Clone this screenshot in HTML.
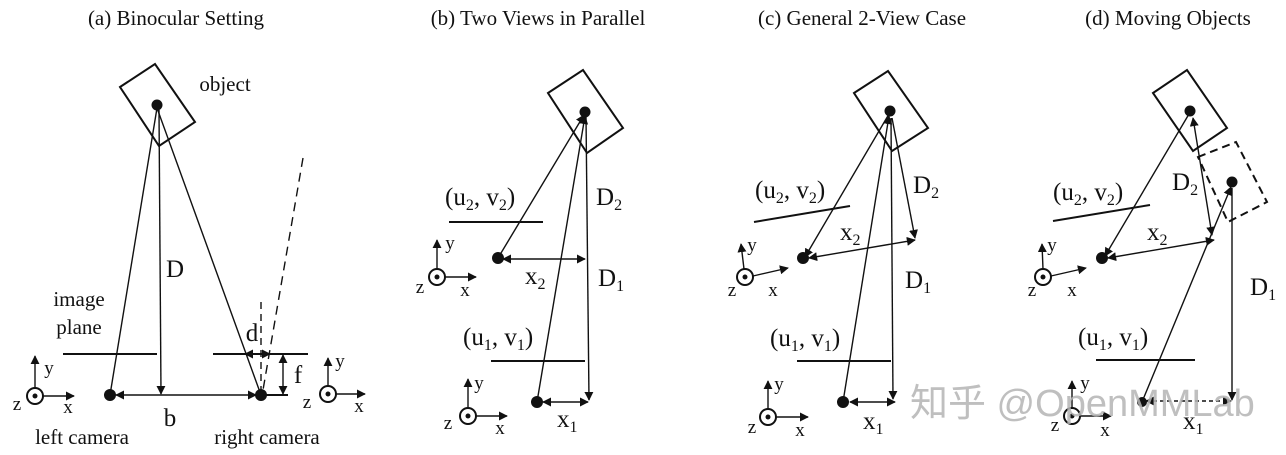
<!DOCTYPE html>
<html><head><meta charset="utf-8"><style>
html,body{margin:0;padding:0;background:#fff;}
svg{display:block;}
text{font-family:"Liberation Serif",serif;fill:#111;}
.t{font-size:21px;}
.l{font-size:25px;}
.s{font-size:19px;}
.wm{font-family:"Liberation Sans","Noto Sans CJK SC",sans-serif;fill:#b5b5b5;font-size:38px;}
</style></head><body>
<svg width="1286" height="455" viewBox="0 0 1286 455" xmlns="http://www.w3.org/2000/svg">
<defs>
<marker id="a" viewBox="0 0 10 10" refX="9" refY="5" markerWidth="9" markerHeight="9" markerUnits="userSpaceOnUse" orient="auto-start-reverse">
<path d="M0,0 L10,5 L0,10 z" fill="#111"/></marker>
</defs>
<g stroke="#111" stroke-width="1.4" fill="none">
<!-- Panel a -->
<polygon points="120,87 155,64 195,122 159,146" stroke-width="2"/>
<line x1="157" y1="108" x2="110" y2="395"/>
<line x1="157" y1="108" x2="261" y2="395"/>
<line x1="159" y1="110" x2="161" y2="394" marker-end="url(#a)"/>
<line x1="116" y1="395" x2="256" y2="395" marker-start="url(#a)" marker-end="url(#a)"/>
<line x1="63" y1="354" x2="157" y2="354" stroke-width="2"/>
<line x1="213" y1="354" x2="308" y2="354" stroke-width="2"/>
<line x1="261" y1="302" x2="261" y2="392" stroke-dasharray="7,5"/>
<line x1="303" y1="158" x2="263" y2="390" stroke-dasharray="9,6"/>
<line x1="245" y1="354" x2="270" y2="354" marker-start="url(#a)" marker-end="url(#a)"/>
<line x1="283" y1="355" x2="283" y2="394" marker-start="url(#a)" marker-end="url(#a)"/>
<line x1="265" y1="395" x2="288" y2="395" stroke-width="2"/>
<circle cx="35" cy="396" r="8" stroke-width="2"/>
<line x1="35" y1="388" x2="35" y2="356" marker-end="url(#a)"/>
<line x1="43" y1="396" x2="74" y2="396" marker-end="url(#a)"/>
<circle cx="328" cy="394" r="8" stroke-width="2"/>
<line x1="328" y1="386" x2="328" y2="358" marker-end="url(#a)"/>
<line x1="336" y1="394" x2="365" y2="394" marker-end="url(#a)"/>
<!-- Panel b -->
<polygon points="548,93 583,70 623,128 587,153" stroke-width="2"/>
<line x1="498" y1="258" x2="584" y2="115" marker-end="url(#a)"/>
<line x1="537" y1="402" x2="585" y2="116" marker-end="url(#a)"/>
<line x1="586" y1="116" x2="589" y2="400" marker-end="url(#a)"/>
<line x1="503" y1="259" x2="585" y2="259" marker-start="url(#a)" marker-end="url(#a)"/>
<line x1="543" y1="402" x2="588" y2="402" marker-start="url(#a)" marker-end="url(#a)"/>
<line x1="449" y1="222" x2="543" y2="222" stroke-width="2"/>
<line x1="491" y1="361" x2="585" y2="361" stroke-width="2"/>
<circle cx="437" cy="277" r="8" stroke-width="2"/>
<line x1="437" y1="269" x2="437" y2="240" marker-end="url(#a)"/>
<line x1="445" y1="277" x2="476" y2="277" marker-end="url(#a)"/>
<circle cx="468" cy="416" r="8" stroke-width="2"/>
<line x1="468" y1="408" x2="468" y2="379" marker-end="url(#a)"/>
<line x1="476" y1="416" x2="507" y2="416" marker-end="url(#a)"/>
<!-- Panel c -->
<polygon points="854,93 888,71 928,128 892,151" stroke-width="2"/>
<line x1="889" y1="114" x2="805" y2="257" marker-end="url(#a)"/>
<line x1="843" y1="402" x2="889" y2="116" marker-end="url(#a)"/>
<line x1="891" y1="118" x2="893" y2="399" marker-end="url(#a)"/>
<line x1="892" y1="118" x2="915" y2="238" marker-end="url(#a)"/>
<line x1="809" y1="258" x2="915" y2="240" marker-start="url(#a)" marker-end="url(#a)"/>
<line x1="850" y1="402" x2="895" y2="402" marker-start="url(#a)" marker-end="url(#a)"/>
<line x1="754" y1="222" x2="850" y2="206" stroke-width="2"/>
<line x1="797" y1="361" x2="891" y2="361" stroke-width="2"/>
<circle cx="745" cy="277" r="8" stroke-width="2"/>
<line x1="744" y1="269" x2="741" y2="244" marker-end="url(#a)"/>
<line x1="753" y1="276" x2="788" y2="268" marker-end="url(#a)"/>
<circle cx="768" cy="417" r="8" stroke-width="2"/>
<line x1="768" y1="409" x2="768" y2="381" marker-end="url(#a)"/>
<line x1="776" y1="417" x2="808" y2="417" marker-end="url(#a)"/>
<!-- Panel d -->
<polygon points="1153,93 1187,70 1227,128 1193,151" stroke-width="2"/>
<polygon points="1198,157 1236,142 1267,202 1228,222" stroke-width="2" stroke-dasharray="8,5"/>
<line x1="1189" y1="114" x2="1105" y2="256" marker-end="url(#a)"/>
<line x1="1193" y1="118" x2="1212" y2="235" marker-start="url(#a)" marker-end="url(#a)"/>
<line x1="1108" y1="258" x2="1214" y2="240" marker-start="url(#a)" marker-end="url(#a)"/>
<line x1="1142" y1="402" x2="1231" y2="187" marker-end="url(#a)"/>
<line x1="1232" y1="188" x2="1232" y2="400" marker-end="url(#a)"/>
<line x1="1146" y1="401" x2="1231" y2="401" marker-start="url(#a)" marker-end="url(#a)" stroke-dasharray="4,3"/>
<line x1="1053" y1="221" x2="1150" y2="205" stroke-width="2"/>
<line x1="1096" y1="360" x2="1195" y2="360" stroke-width="2"/>
<circle cx="1043" cy="277" r="8" stroke-width="2"/>
<line x1="1043" y1="269" x2="1042" y2="244" marker-end="url(#a)"/>
<line x1="1051" y1="276" x2="1086" y2="268" marker-end="url(#a)"/>
<circle cx="1072" cy="416" r="8" stroke-width="2"/>
<line x1="1072" y1="408" x2="1072" y2="381" marker-end="url(#a)"/>
<line x1="1080" y1="416" x2="1111" y2="416" marker-end="url(#a)"/>
</g>
<g fill="#111">
<circle cx="157" cy="105" r="5.5"/><circle cx="110" cy="395" r="6"/><circle cx="261" cy="395" r="6"/>
<circle cx="35" cy="396" r="2.5"/><circle cx="328" cy="394" r="2.5"/>
<circle cx="585" cy="112" r="5.5"/><circle cx="498" cy="258" r="6"/><circle cx="537" cy="402" r="6"/>
<circle cx="437" cy="277" r="2.5"/><circle cx="468" cy="416" r="2.5"/>
<circle cx="890" cy="111" r="5.5"/><circle cx="803" cy="258" r="6"/><circle cx="843" cy="402" r="6"/>
<circle cx="745" cy="277" r="2.5"/><circle cx="768" cy="417" r="2.5"/>
<circle cx="1190" cy="111" r="5.5"/><circle cx="1232" cy="182" r="5.5"/><circle cx="1102" cy="258" r="6"/><circle cx="1142" cy="402" r="5"/>
<circle cx="1043" cy="277" r="2.5"/><circle cx="1072" cy="416" r="2.5"/>
</g>
<!-- titles -->
<text class="t" x="176" y="25" text-anchor="middle">(a) Binocular Setting</text>
<text class="t" x="538" y="25" text-anchor="middle">(b) Two Views in Parallel</text>
<text class="t" x="862" y="25" text-anchor="middle">(c) General 2-View Case</text>
<text class="t" x="1168" y="25" text-anchor="middle">(d) Moving Objects</text>
<!-- panel a labels -->
<text class="t" x="225" y="91" text-anchor="middle">object</text>
<text class="l" x="175" y="277" text-anchor="middle">D</text>
<text class="t" x="79" y="306" text-anchor="middle">image</text>
<text class="t" x="79" y="334" text-anchor="middle">plane</text>
<text class="l" x="252" y="341" text-anchor="middle">d</text>
<text class="l" x="298" y="383" text-anchor="middle">f</text>
<text class="l" x="170" y="426" text-anchor="middle">b</text>
<text class="t" x="82" y="444" text-anchor="middle">left camera</text>
<text class="t" x="267" y="444" text-anchor="middle">right camera</text>
<text class="s" x="49" y="374" text-anchor="middle">y</text>
<text class="s" x="17" y="410" text-anchor="middle">z</text>
<text class="s" x="68" y="413" text-anchor="middle">x</text>
<text class="s" x="340" y="367" text-anchor="middle">y</text>
<text class="s" x="307" y="408" text-anchor="middle">z</text>
<text class="s" x="359" y="412" text-anchor="middle">x</text>
<!-- panel b -->
<text class="l" x="445" y="205">(u<tspan font-size="16" dy="5">2</tspan><tspan dy="-5">, v</tspan><tspan font-size="16" dy="5">2</tspan><tspan dy="-5">)</tspan></text>
<text class="l" x="596" y="205">D<tspan font-size="16" dy="5">2</tspan></text>
<text class="l" x="525" y="284">x<tspan font-size="16" dy="5">2</tspan></text>
<text class="l" x="598" y="286">D<tspan font-size="16" dy="5">1</tspan></text>
<text class="l" x="463" y="345">(u<tspan font-size="16" dy="5">1</tspan><tspan dy="-5">, v</tspan><tspan font-size="16" dy="5">1</tspan><tspan dy="-5">)</tspan></text>
<text class="l" x="557" y="427">x<tspan font-size="16" dy="5">1</tspan></text>
<text class="s" x="450" y="249" text-anchor="middle">y</text>
<text class="s" x="420" y="293" text-anchor="middle">z</text>
<text class="s" x="465" y="296" text-anchor="middle">x</text>
<text class="s" x="479" y="389" text-anchor="middle">y</text>
<text class="s" x="448" y="429" text-anchor="middle">z</text>
<text class="s" x="500" y="434" text-anchor="middle">x</text>
<!-- panel c -->
<text class="l" x="755" y="198">(u<tspan font-size="16" dy="5">2</tspan><tspan dy="-5">, v</tspan><tspan font-size="16" dy="5">2</tspan><tspan dy="-5">)</tspan></text>
<text class="l" x="913" y="193">D<tspan font-size="16" dy="5">2</tspan></text>
<text class="l" x="840" y="240">x<tspan font-size="16" dy="5">2</tspan></text>
<text class="l" x="905" y="288">D<tspan font-size="16" dy="5">1</tspan></text>
<text class="l" x="770" y="346">(u<tspan font-size="16" dy="5">1</tspan><tspan dy="-5">, v</tspan><tspan font-size="16" dy="5">1</tspan><tspan dy="-5">)</tspan></text>
<text class="l" x="863" y="429">x<tspan font-size="16" dy="5">1</tspan></text>
<text class="s" x="752" y="251" text-anchor="middle">y</text>
<text class="s" x="732" y="296" text-anchor="middle">z</text>
<text class="s" x="773" y="296" text-anchor="middle">x</text>
<text class="s" x="779" y="390" text-anchor="middle">y</text>
<text class="s" x="752" y="433" text-anchor="middle">z</text>
<text class="s" x="800" y="436" text-anchor="middle">x</text>
<!-- panel d -->
<text class="l" x="1053" y="200">(u<tspan font-size="16" dy="5">2</tspan><tspan dy="-5">, v</tspan><tspan font-size="16" dy="5">2</tspan><tspan dy="-5">)</tspan></text>
<text class="l" x="1172" y="190">D<tspan font-size="16" dy="5">2</tspan></text>
<text class="l" x="1147" y="240">x<tspan font-size="16" dy="5">2</tspan></text>
<text class="l" x="1250" y="295">D<tspan font-size="16" dy="5">1</tspan></text>
<text class="l" x="1078" y="345">(u<tspan font-size="16" dy="5">1</tspan><tspan dy="-5">, v</tspan><tspan font-size="16" dy="5">1</tspan><tspan dy="-5">)</tspan></text>
<text class="l" x="1183" y="429">x<tspan font-size="16" dy="5">1</tspan></text>
<text class="s" x="1052" y="251" text-anchor="middle">y</text>
<text class="s" x="1032" y="296" text-anchor="middle">z</text>
<text class="s" x="1072" y="296" text-anchor="middle">x</text>
<text class="s" x="1085" y="389" text-anchor="middle">y</text>
<text class="s" x="1055" y="431" text-anchor="middle">z</text>
<text class="s" x="1105" y="436" text-anchor="middle">x</text>
<!-- watermark -->
<text class="wm" x="910" y="416" opacity="0.85">知乎 @OpenMMLab</text>
</svg>
</body></html>
